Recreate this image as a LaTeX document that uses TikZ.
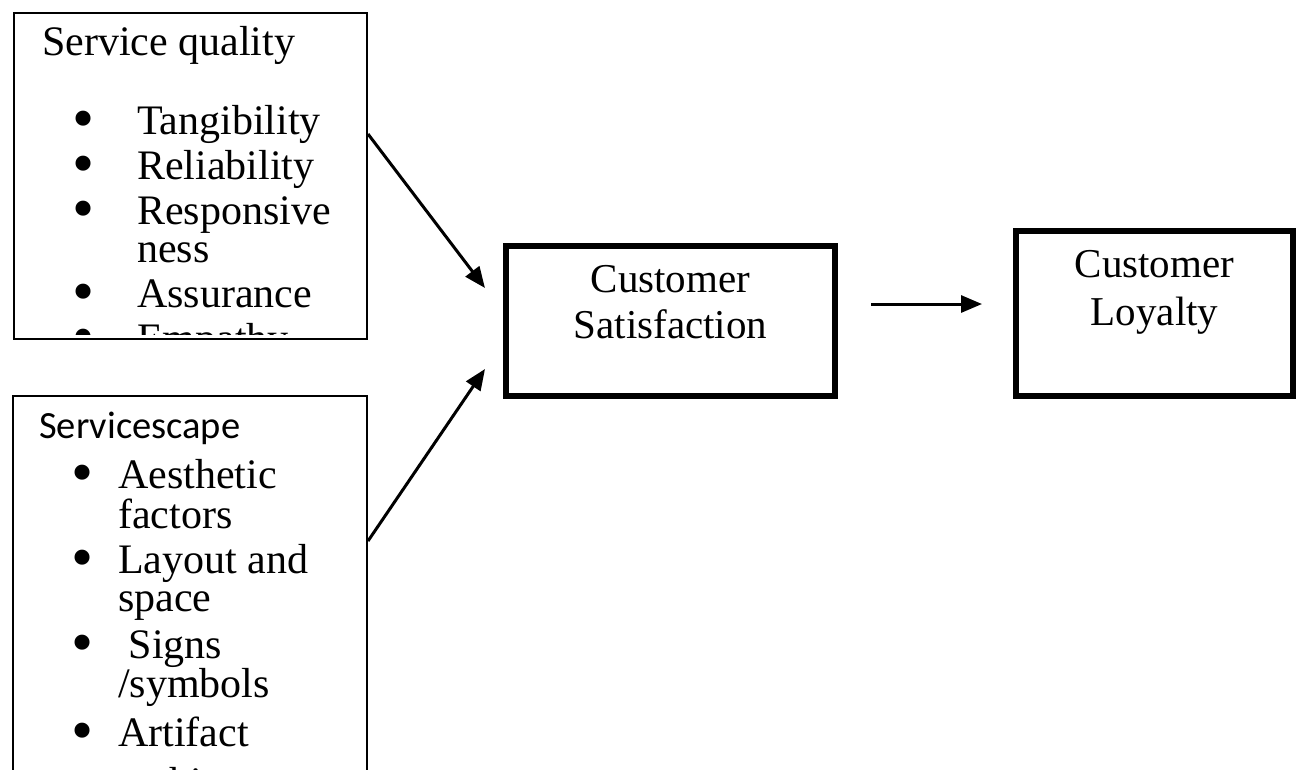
\documentclass[tikz,border=0pt]{standalone}
\usepackage{fontspec}
\setmainfont{Liberation Serif}
\newfontfamily\scapefont{Carlito}
\usetikzlibrary{positioning,arrows.meta}

\newcommand{\bigbul}{\smash{\raisebox{-5pt}{\scalebox{1.5}{\textbullet}}}}
\newcommand{\qitem}{\hspace*{30pt}\makebox[65pt][l]{\bigbul}}
\newcommand{\qcont}{\hspace*{95pt}}
\newcommand{\sitem}{\hspace*{32pt}\makebox[47pt][l]{\bigbul}}
\newcommand{\scont}{\hspace*{79pt}}

\begin{document}
\begin{tikzpicture}[
    x=1pt, y=-1pt,
    font=\fontsize{42pt}{38pt}\selectfont,
    thin box/.style={draw, line width=2pt},
    thick box/.style={draw, line width=6pt},
    list/.style={align=left, inner sep=0pt, anchor=north west},
    caption/.style={align=center, inner sep=0pt,
        font=\fontsize{41pt}{46pt}\selectfont},
    arr/.style={line width=3pt, -{Triangle[length=21pt,width=17pt]}}
]
\useasboundingbox (0,0) rectangle (1297,769);
\clip (0,0) rectangle (1297,769);

% boxes
\node [thin box, minimum width=353pt, minimum height=326pt] (quality) at (190.5,176) {};
\node [thin box, minimum width=354pt, minimum height=404pt] (scape) at (190,598) {};
\node [thick box, minimum width=329pt, minimum height=150pt] (satisfaction) at (670.5,321) {};
\node [thick box, minimum width=277pt, minimum height=165pt] (loyalty) at (1154.5,313.5) {};

% lists, cut off inside their boxes
\begin{scope}
\clip ([yshift=6pt]quality.south west) rectangle (quality.north east);
\node [list] (quality list) at (42,26) {Service quality\\[40pt]
    \qitem Tangibility\\[6pt]
    \qitem Reliability\\[7pt]
    \qitem Responsive\\
    \qcont ness\\[7pt]
    \qitem Assurance\\[7pt]
    \qitem Empathy};
\end{scope}

\begin{scope}
\clip (scape.south west) rectangle (scape.north east);
\node [list] (scape list) at (39,412) {{\scapefont\fontsize{38.5pt}{38pt}\selectfont Servicescape}\\[12pt]
    \sitem Aesthetic\\[2pt]
    \scont factors\\[7pt]
    \sitem Layout and\\
    \scont space\\[9pt]
    \sitem\ Signs\\
    \scont /symbols\\[9pt]
    \sitem Artifact\\[12pt]
    \scont architecture};
\end{scope}

\node [caption, below=22pt of satisfaction.north] (satisfaction text) {Customer\\Satisfaction};
\node [caption, below=22pt of loyalty.north] (loyalty text) {Customer\\[2pt]Loyalty};

% arrows
\draw [arr] ([yshift=-122pt]quality.north east) -- ([xshift=-18pt,yshift=33pt]satisfaction.west);
\draw [arr] ([yshift=-146pt]scape.north east) -- ([xshift=-18pt,yshift=-48pt]satisfaction.west);
\draw [arr] ([xshift=33pt,yshift=17pt]satisfaction.east) -- ([xshift=-31pt,yshift=9.5pt]loyalty.west);

\end{tikzpicture}
\end{document}
